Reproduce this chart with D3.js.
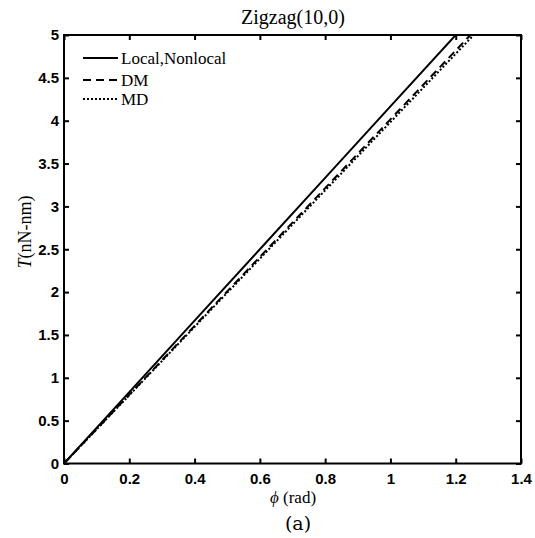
<!DOCTYPE html>
<html>
<head>
<meta charset="utf-8">
<script src="https://cdn.jsdelivr.net/npm/d3@7"></script>
<style>
  body { margin: 0; background: #fff; }
  svg { display: block; }
</style>
</head>
<body>
<svg id="chart" width="535" height="538"></svg>
<script>
// Torque versus twist angle, zigzag (10,0) nanotube
const phi = [0, 0.2, 0.4, 0.6, 0.8, 1.0, 1.2, 1.3];
const tLocal = [0, 0.833, 1.667, 2.5, 3.333, 4.167, 5.0, 5.417];
const tDM    = [0, 0.803, 1.606, 2.41, 3.213, 4.016, 4.819, 5.221];
const tMD    = [0, 0.797, 1.594, 2.39, 3.187, 3.984, 4.781, 5.179];
const xTicks = [0, 0.2, 0.4, 0.6, 0.8, 1, 1.2, 1.4];
const yTicks = [0, 0.5, 1, 1.5, 2, 2.5, 3, 3.5, 4, 4.5, 5];
const seriesNames = ["Local,Nonlocal", "DM", "MD"];

const svg = d3.select("#chart");
const L = 64, R = 521, T = 35, B = 463.5;

const x = d3.scaleLinear().domain([0, 1.4]).range([L, R]);
const y = d3.scaleLinear().domain([0, 5]).range([B, T]);

svg.append("defs").append("clipPath").attr("id", "plotClip")
  .append("rect").attr("x", L).attr("y", T).attr("width", R - L).attr("height", B - T);

const series = [
  { name: seriesNames[0], vals: tLocal, dash: null },
  { name: seriesNames[1], vals: tDM, dash: "8,5" },
  { name: seriesNames[2], vals: tMD, dash: "2,2" }
];

const line = d3.line().x(d => x(d[0])).y(d => y(d[1]));
const plot = svg.append("g").attr("clip-path", "url(#plotClip)");
series.forEach(s => {
  plot.append("path")
    .datum(phi.map((p, i) => [p, s.vals[i]]))
    .attr("d", line)
    .attr("fill", "none")
    .attr("stroke", "#000")
    .attr("stroke-width", 2)
    .attr("stroke-dasharray", s.dash);
});

// Axes with inward ticks, mirrored on top and right
const sans = "Liberation Sans, Arial, sans-serif";
const serif = "Liberation Serif, Times New Roman, serif";
const styleTicks = g => g.selectAll("text")
  .attr("font-family", sans).attr("font-size", 15).attr("font-weight", "bold").attr("fill", "#000");
const ax = g => g.selectAll(".domain").remove();

svg.append("g").attr("transform", `translate(0,${B})`)
  .call(d3.axisBottom(x).tickValues(xTicks).tickSizeInner(-5).tickSizeOuter(0).tickPadding(10).tickFormat(d3.format("")))
  .call(ax).call(styleTicks)
  .call(g => g.selectAll("line").attr("stroke-width", 2));

svg.append("g").attr("transform", `translate(0,${T})`)
  .call(d3.axisTop(x).tickValues(xTicks).tickSizeInner(-5).tickSizeOuter(0).tickFormat(""))
  .call(ax)
  .call(g => g.selectAll("line").attr("stroke-width", 2));

svg.append("g").attr("transform", `translate(${L},0)`)
  .call(d3.axisLeft(y).tickValues(yTicks).tickSizeInner(-5).tickSizeOuter(0).tickPadding(5).tickFormat(d3.format("")))
  .call(ax).call(styleTicks)
  .call(g => g.selectAll("line").attr("stroke-width", 2));

svg.append("g").attr("transform", `translate(${R},0)`)
  .call(d3.axisRight(y).tickValues(yTicks).tickSizeInner(-5).tickSizeOuter(0).tickFormat(""))
  .call(ax)
  .call(g => g.selectAll("line").attr("stroke-width", 2));

svg.append("rect")
  .attr("x", L).attr("y", T).attr("width", R - L).attr("height", B - T)
  .attr("fill", "none").attr("stroke", "#000").attr("stroke-width", 2);

// Title
svg.append("text").attr("x", 293).attr("y", 24)
  .attr("text-anchor", "middle").attr("font-family", serif).attr("font-size", 20)
  .text("Zigzag(10,0)");

// Legend
const legY = [58, 80, 99];
series.forEach((s, i) => {
  svg.append("line")
    .attr("x1", 83).attr("x2", 118).attr("y1", legY[i]).attr("y2", legY[i])
    .attr("stroke", "#000").attr("stroke-width", 2).attr("stroke-dasharray", s.dash);
  svg.append("text").attr("x", 121).attr("y", legY[i] + 6)
    .attr("font-family", serif).attr("font-size", 17).text(s.name);
});

// Axis labels
const xl = svg.append("text").attr("x", 293).attr("y", 503)
  .attr("text-anchor", "middle").attr("font-family", serif).attr("font-size", 17);
xl.append("tspan").attr("font-style", "italic").text("\u03d5");
xl.append("tspan").text(" (rad)");

const yl = svg.append("text")
  .attr("transform", `translate(31,232) rotate(-90)`)
  .attr("text-anchor", "middle").attr("font-family", serif).attr("font-size", 18);
yl.append("tspan").attr("font-style", "italic").text("T");
yl.append("tspan").text("(nN-nm)");

svg.append("text").attr("x", 298).attr("y", 530)
  .attr("text-anchor", "middle").attr("font-family", "DejaVu Serif, serif").attr("font-size", 19)
  .text("(a)");
</script>
</body>
</html>
